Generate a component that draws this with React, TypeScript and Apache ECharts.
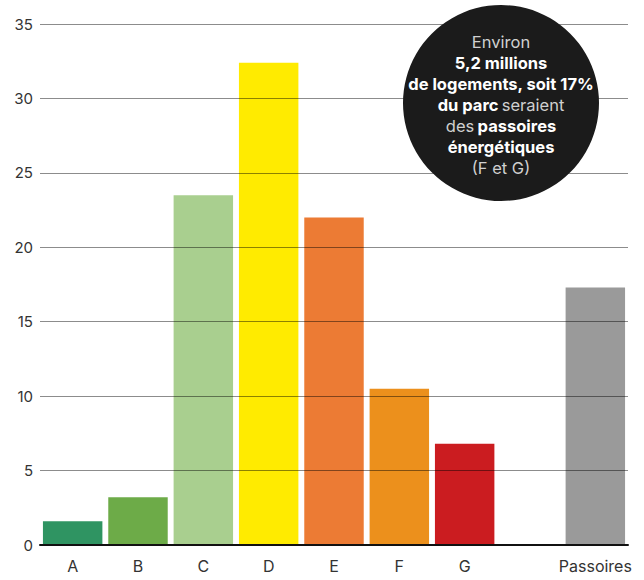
import React, { useEffect, useRef } from "react";
import * as echarts from "echarts";

const categories = ["A", "B", "C", "D", "E", "F", "G", "", "Passoires"];
const values: (number | null)[] = [1.6, 3.2, 23.5, 32.4, 22.0, 10.5, 6.8, null, 17.3];
const colors = ["#2f9462", "#6dab48", "#a9cf8f", "#ffeb00", "#ec7b34", "#ec901c", "#cb1c20", "#ffffff", "#9a9a9a"];
const yTicks = { min: 0, max: 35, interval: 5 };

export default function App() {
  const ref = useRef<HTMLDivElement>(null);
  useEffect(() => {
    document.body.style.margin = "0";
    const chart = echarts.init(ref.current!, null, { renderer: "svg" });
    const font = "Inter, Roboto, 'Noto Sans', sans-serif";
    chart.setOption({
      animation: false,
      textStyle: { fontFamily: font },
      grid: { left: 40, right: 16, top: 24, bottom: 35, containLabel: false },
      xAxis: {
        type: "category",
        data: categories,
        z: 5,
        axisLine: { show: true, lineStyle: { color: "#111", width: 2 } },
        axisTick: { show: false },
        axisLabel: { color: "#333", fontSize: 16, margin: 13, interval: 0, fontFamily: font },
      },
      yAxis: {
        type: "value",
        min: yTicks.min,
        max: yTicks.max,
        interval: yTicks.interval,
        z: 4,
        axisLine: { show: false },
        axisTick: { show: false },
        axisLabel: { color: "#333", fontSize: 15, margin: 7, fontFamily: font },
        splitLine: { lineStyle: { color: "rgba(0,0,0,0.45)", width: 1 } },
      },
      series: [
        {
          type: "bar",
          barCategoryGap: "9%",
          data: values.map((v, i) => ({ value: v, itemStyle: { color: colors[i] } })),
        },
      ],
      graphic: [
        {
          type: "circle",
          z: 100,
          shape: { cx: 501, cy: 103, r: 98 },
          style: { fill: "#1b1b1b" },
        },
        {
          type: "text",
          z: 101,
          x: 501,
          y: 31,
          style: {
            text: [
              "{l|Environ}",
              "{b|5,2 millions}",
              "{b|de logements, soit 17%}",
              "{b|du parc} {l|seraient}",
              "{l|des} {b|passoires}",
              "{b|énergétiques}",
              "{l|(F et G)}",
            ].join("\n"),
            align: "center",
            verticalAlign: "top",
            fontFamily: font,
            rich: {
              l: { fill: "#d0d0d0", fontSize: 16.5, fontWeight: 400, lineHeight: 21, fontFamily: font },
              b: { fill: "#ffffff", fontSize: 16.5, fontWeight: 700, lineHeight: 21, fontFamily: font },
            },
          },
        },
      ],
    });
    return () => chart.dispose();
  }, []);
  return <div ref={ref} style={{ width: 644, height: 580 }} />;
}
